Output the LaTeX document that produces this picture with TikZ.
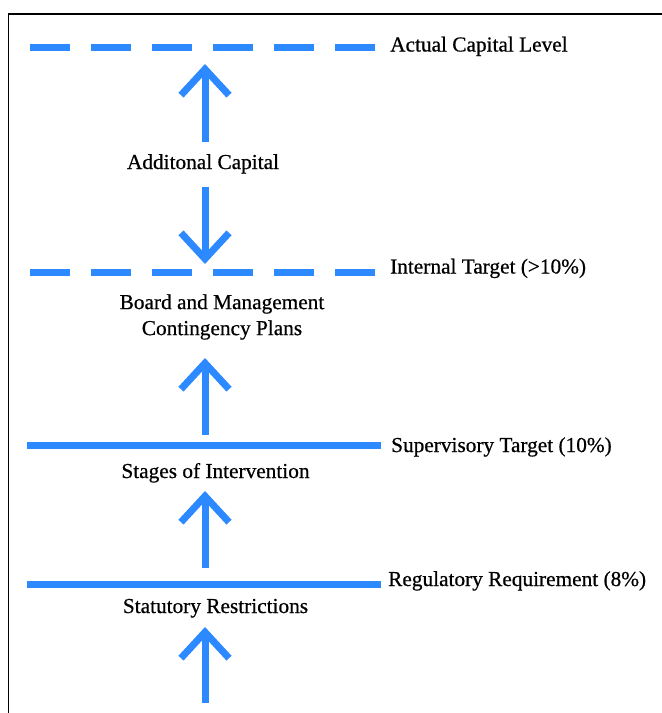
\documentclass[tikz,border=0pt]{standalone}
\usepackage{fontspec}
\setmainfont{Liberation Serif}[FakeBold=0.6]
\usepackage{tikz}
\usetikzlibrary{arrows.meta}
\definecolor{capblue}{RGB}{45,137,255}
\newcommand{\caparrow}{-{Straight Barb[length=26pt,width=48pt]}}

\begin{document}
\begin{tikzpicture}[x=1pt,y=-1pt,
		level/.style={capblue,line width=7pt},
		dashlevel/.style={level,dash pattern=on 40pt off 21pt},
		txt/.style={inner sep=0pt,font=\fontsize{21.3}{26}\selectfont}]
		\useasboundingbox (0,0) rectangle (662,713);
		\draw[line width=1.5pt] (8.5,713) -- (8.5,14) -- (662,14);
		% levels
		\coordinate (actl) at (30,47);   \coordinate (actr) at (379,47);
		\coordinate (intl) at (30,272);  \coordinate (intr) at (379,272);
		\coordinate (supl) at (27,445);  \coordinate (supr) at (381,445);
		\coordinate (regl) at (27,584);  \coordinate (regr) at (381,584);
		\draw[dashlevel] (actl) -- (actr);
		\draw[dashlevel] (intl) -- (intr);
		\draw[level] (supl) -- (supr);
		\draw[level] (regl) -- (regr);
		\node[txt,anchor=base west] (act) at (390,51.5) {Actual Capital Level};
		\node[txt,anchor=base west] (int) at (390,273.5) {Internal Target (>10\%)};
		\node[txt,anchor=base west] (sup) at (391,452) {Supervisory Target (10\%)};
		\node[txt,anchor=base west] (reg) at (388,586) {Regulatory Requirement (8\%)};
		% measures
		\node[txt,anchor=base] (addcap) at (203,169) {Additonal Capital};
		\node[txt,align=center] (board) at (222,317) {Board and Management\\Contingency Plans};
		\node[txt,anchor=base] (stages) at (215.5,478) {Stages of Intervention};
		\node[txt,anchor=base] (statut) at (215.5,613) {Statutory Restrictions};
		% arrows
		\coordinate (a1s) at (205,142); \coordinate (a1t) at (205,64);
		\coordinate (a2s) at (205,187); \coordinate (a2t) at (205,264);
		\coordinate (a3s) at (205,435); \coordinate (a3t) at (205,358);
		\coordinate (a4s) at (205,568); \coordinate (a4t) at (205,491);
		\coordinate (a5s) at (205,703); \coordinate (a5t) at (205,627);
		\foreach \i in {1,...,5}
			\draw[level,\caparrow] (a\i s) -- (a\i t);
	\end{tikzpicture}
\end{document}
